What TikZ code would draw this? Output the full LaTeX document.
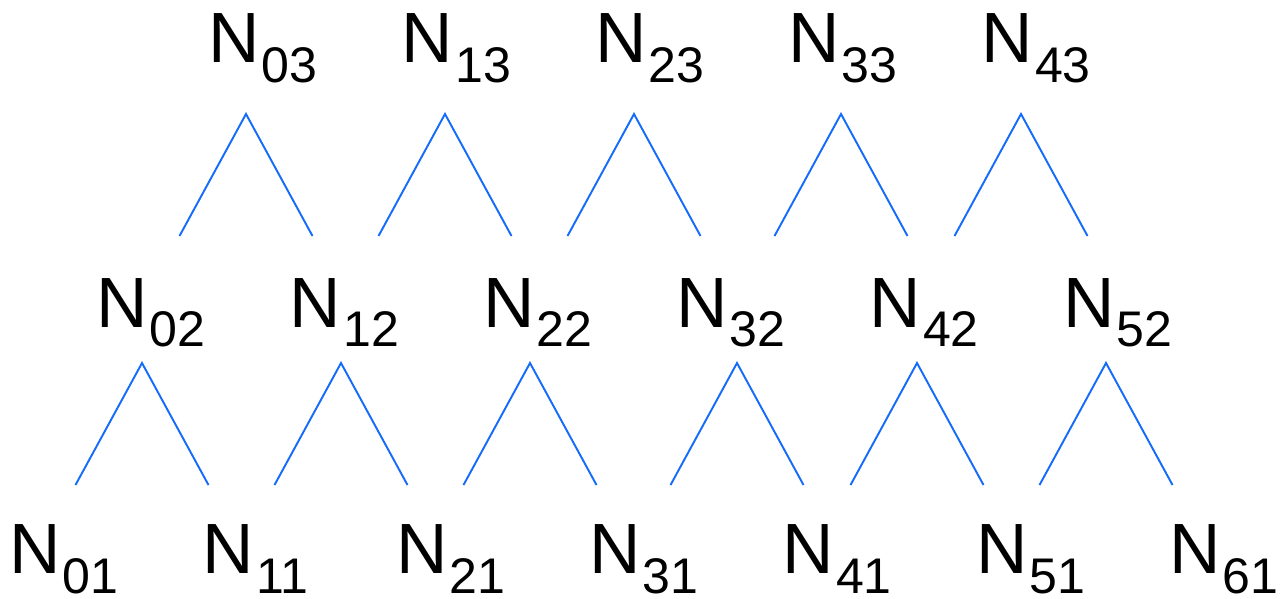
\documentclass[tikz,border=0pt]{standalone}
\usepackage{fontspec}
\setmainfont{Liberation Sans}
\usetikzlibrary{calc}
\definecolor{linkblue}{RGB}{22,108,250}
\newcommand{\nlabel}[2]{N\kern0.04cm\raisebox{-0.4cm}{\fontsize{28.5pt}{30pt}\selectfont #1#2}}

\begin{document}
\begin{tikzpicture}[x=0.02cm,y=-0.02cm,
  lbl/.style={anchor=base west,inner sep=0pt,outer sep=0pt,font=\fontsize{40.5pt}{42pt}\selectfont},
  link/.style={draw=linkblue,line width=1.1pt}]
  \useasboundingbox (0,0) rectangle (1283,598);
  \def\dx{193.3} % 横の間隔
  \foreach \i in {0,...,6} \node[lbl] (n\i1) at (9.5+\dx*\i,573) {\nlabel{\i}{1}}; % 1段目
  \foreach \i in {0,...,5} \node[lbl] (n\i2) at (96.5+\dx*\i,327) {\nlabel{\i}{2}}; % 2段目
  \foreach \i in {0,...,4} \node[lbl] (n\i3) at (208.5+\dx*\i,63) {\nlabel{\i}{3}}; % 3段目
  \foreach \x [count=\i from 0] in {142,341,530,737,917,1106} \coordinate (a\i2) at (\x,363); % 2段目の下の頂点
  \foreach \x [count=\i from 0] in {246,445,634,841,1021} \coordinate (a\i3) at (\x,114); % 3段目の下の頂点
  \foreach \j/\k in {2/5,3/4} \foreach \i in {0,...,\k}
    \draw[link] ([shift={(-66.5,122)}]a\i\j) -- (a\i\j) -- ++(66.5,122); % 山形の線
\end{tikzpicture}
\end{document}
